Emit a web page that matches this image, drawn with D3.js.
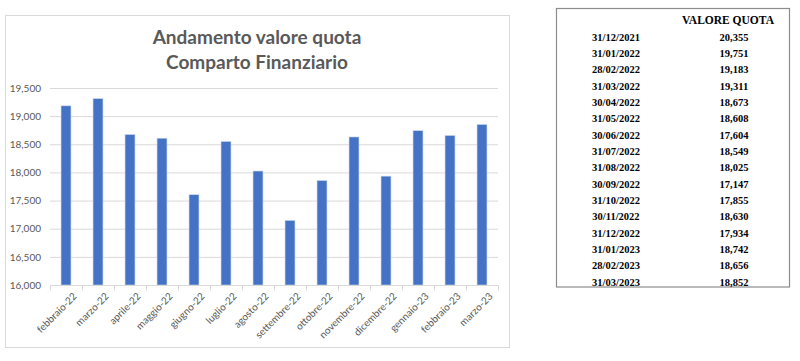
<!DOCTYPE html>
<html><head><meta charset="utf-8">
<script src="https://cdn.jsdelivr.net/npm/d3@7"></script>
<style>body{margin:0;background:#fff}</style>
</head><body><svg id="c" width="800" height="361"></svg>
<script>
const categories = ["febbraio-22","marzo-22","aprile-22","maggio-22","giugno-22","luglio-22","agosto-22","settembre-22","ottobre-22","novembre-22","dicembre-22","gennaio-23","febbraio-23","marzo-23"];
const values = [19183,19311,18673,18608,17604,18549,18025,17147,17855,18630,17934,18742,18656,18852];
const yTicks = [16000,16500,17000,17500,18000,18500,19000,19500];
const titleLines = ["Andamento valore quota","Comparto Finanziario"];
const tableHeader = "VALORE QUOTA";
const tableDates = ["31/12/2021","31/01/2022","28/02/2022","31/03/2022","30/04/2022","31/05/2022","30/06/2022","31/07/2022","31/08/2022","30/09/2022","31/10/2022","30/11/2022","31/12/2022","31/01/2023","28/02/2023","31/03/2023"];
const tableValues = ["20,355","19,751","19,183","19,311","18,673","18,608","17,604","18,549","18,025","17,147","17,855","18,630","17,934","18,742","18,656","18,852"];

const svg = d3.select("#c");
// chart frame
svg.append("rect").attr("x",5.5).attr("y",15.5).attr("width",504).attr("height",332)
  .attr("fill","#fff").attr("stroke","#d9d9d9");

const x = d3.scaleBand().domain(categories).range([50,498]).paddingInner(0.69).paddingOuter(0.345);
const y = d3.scaleLinear().domain([16000,19500]).range([285,88]);

// gridlines
svg.append("g").selectAll("line").data(yTicks.filter(t=>t>16000)).join("line")
  .attr("x1",50).attr("x2",498).attr("y1",d=>y(d)+0.5).attr("y2",d=>y(d)+0.5)
  .attr("stroke","#d9d9d9").attr("stroke-width",1);

// y labels
const ya = svg.append("g").attr("transform","translate(50,0)")
  .call(d3.axisLeft(y).tickValues(yTicks).tickSize(0).tickPadding(9).tickFormat(d3.format(",")));
ya.select(".domain").remove();
ya.selectAll("text").attr("fill","#595959").style("font-family","Lato, 'Open Sans', sans-serif").style("font-size","10px");

// bars
svg.append("g").selectAll("rect").data(values).join("rect")
  .attr("x",(d,i)=>x(categories[i])).attr("width",x.bandwidth())
  .attr("y",d=>y(d)).attr("height",d=>y(16000)-y(d))
  .attr("fill","#4472c4").attr("stroke","#c9d6ee").attr("stroke-width",0.6);

// x axis
const xa = svg.append("g").attr("transform","translate(0,285.5)");
xa.append("line").attr("x1",50).attr("x2",498).attr("stroke","#d9d9d9");
xa.selectAll("line.t").data(d3.range(categories.length+1)).join("line").attr("class","t")
  .attr("x1",i=>50+i*(448/categories.length)+0.5).attr("x2",i=>50+i*(448/categories.length)+0.5)
  .attr("y1",0).attr("y2",5).attr("stroke","#d9d9d9");
xa.selectAll("text").data(categories).join("text")
  .attr("transform",d=>`translate(${x(d)+x.bandwidth()/2+9},9) rotate(-45)`)
  .attr("text-anchor","end").attr("dy","0.35em")
  .attr("fill","#595959").style("font-family","Lato, 'Open Sans', sans-serif").style("font-size","10px")
  .text(d=>d);

// title
svg.append("g").selectAll("text").data(titleLines).join("text")
  .attr("x",257).attr("y",(d,i)=>44+i*25).attr("text-anchor","middle")
  .attr("fill","#595959").style("font-family","Lato, 'Open Sans', sans-serif").style("font-weight","bold").style("font-size","19px")
  .text(d=>d);

// table
const tg = svg.append("g");
tg.append("rect").attr("x",556.5).attr("y",8.5).attr("width",233).attr("height",278.5)
  .attr("fill","#fff").attr("stroke","#8c8c8c").attr("stroke-width",1.2);
const tf = "'Liberation Serif','Times New Roman',serif";
tg.append("text").attr("x",728).attr("y",24).attr("text-anchor","middle")
  .style("font-family",tf).style("font-weight","bold").style("font-size","11.5px").attr("fill","#000").text(tableHeader);
const rowY = d3.scaleLinear().domain([0,tableDates.length-1]).range([40.5,285.5]);
tg.selectAll("text.d").data(tableDates).join("text").attr("class","d")
  .attr("x",616).attr("y",(d,i)=>rowY(i)).attr("text-anchor","middle")
  .style("font-family",tf).style("font-weight","bold").style("font-size","10.5px").text(d=>d);
tg.selectAll("text.v").data(tableValues).join("text").attr("class","v")
  .attr("x",734).attr("y",(d,i)=>rowY(i)).attr("text-anchor","middle")
  .style("font-family",tf).style("font-weight","bold").style("font-size","10.5px").text(d=>d);
</script></body></html>
